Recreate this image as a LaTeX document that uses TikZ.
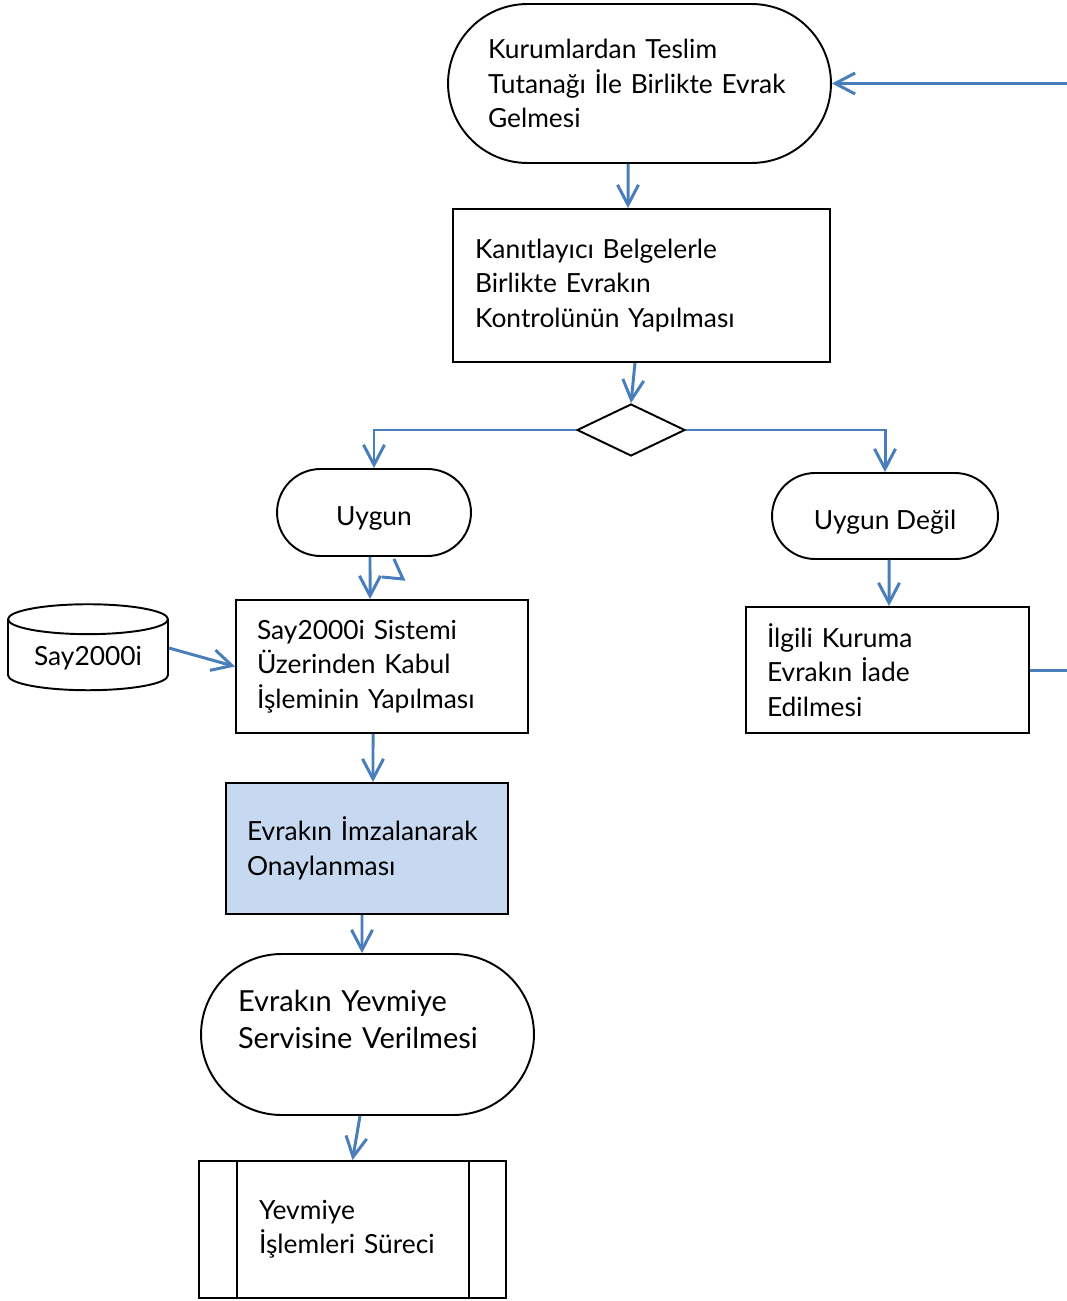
\documentclass[tikz,border=0pt]{standalone}
\usepackage{fontspec}
\setmainfont{Lato}
\usetikzlibrary{shapes.geometric,shapes.symbols,arrows.meta}
\definecolor{flowblue}{HTML}{4A7EBB}
\definecolor{lightfill}{HTML}{C6D9F1}

\begin{document}
\begin{tikzpicture}[x=0.02cm,y=-0.02cm]
  \tikzset{box/.style = {shape=rectangle,draw,line width=1.1pt,inner ysep=0pt,align=left,font=\fontsize{15}{19.6}\selectfont}}
  \tikzset{term/.style = {box,rounded corners=#1}}
  \tikzset{arr/.style = {draw=flowblue,line width=1.7pt,-{Straight Barb[length=0.4cm,width=0.42cm]}}}
  \useasboundingbox (0,0) rectangle (1067,1301);

	\node[term=1.59cm,minimum width=7.66cm,minimum height=3.18cm,text width=6.06cm,inner xsep=0.8cm](start) at (639.5,83.5) {Kurumlardan Teslim\\\mbox{Tutanağı İle Birlikte Evrak}\\Gelmesi};
	\node[box,minimum width=7.54cm,minimum height=3.06cm,text width=6.66cm,inner xsep=0.44cm](ctrl) at (641.5,285.5) {Kanıtlayıcı Belgelerle\\Birlikte Evrakın\\Kontrolünün Yapılması};
	\node[shape=diamond,draw,line width=1.1pt,minimum width=2.16cm,minimum height=1.04cm,inner sep=0pt](dec) at (631,430) {};

	\node[term=0.87cm,minimum width=3.88cm,minimum height=1.74cm,text height=15pt,text depth=0pt](uyg) at (374,512.5) {Uygun};
	\node[term=0.86cm,minimum width=4.52cm,minimum height=1.72cm,text height=15pt,text depth=0pt](uygd) at (885,516) {Uygun Değil};

	\node[box,shape=cylinder,shape border rotate=90,aspect=0.25,minimum width=3.2cm,minimum height=1.72cm](db) at (88,658) {Say2000i};
	\node[box,minimum width=5.84cm,minimum height=2.66cm,text width=5cm,inner xsep=0.42cm](say) at (382,666.5) {Say2000i Sistemi\\Üzerinden Kabul\\İşleminin Yapılması};
	\node[box,minimum width=5.66cm,minimum height=2.52cm,text width=4.82cm,inner xsep=0.42cm](ilg) at (887.5,670) {İlgili Kuruma\\Evrakın İade\\Edilmesi};

	\node[box,fill=lightfill,minimum width=5.64cm,minimum height=2.62cm,text width=4.8cm,inner xsep=0.42cm](imza) at (367,848.5) {\mbox{Evrakın İmzalanarak}\\Onaylanması};
	\node[term=1.61cm,minimum width=6.66cm,minimum height=3.22cm,text width=5.18cm,inner xsep=0.74cm,font=\fontsize{16.5}{21}\selectfont](yev) at (367.5,1034.5) {Evrakın Yevmiye\\\mbox{Servisine Verilmesi}\\[-0.14cm]\mbox{}};

	\node[box,minimum width=6.14cm,minimum height=2.74cm,text width=3.74cm,inner xsep=1.2cm](sub) at (352.5,1229.5) {Yevmiye\\\mbox{İşlemleri Süreci}};
	\draw[line width=1.1pt] ([xshift=0.78cm]sub.north west) -- ([xshift=0.78cm]sub.south west);
	\draw[line width=1.1pt] ([xshift=-0.76cm]sub.north east) -- ([xshift=-0.76cm]sub.south east);

    \foreach \from/\a/\to/\b in {start/-0.23/ctrl/-0.27, ctrl/-0.13/dec/0, uyg/-0.08/say/-0.24, say/-0.18/imza/0.12, imza/-0.1/yev/-0.11, yev/-0.15/sub/0, uygd/0.08/ilg/0.03}
    \draw[arr] ([xshift=\a cm]\from.south) -- ([xshift=\b cm]\to.north);
    \foreach \to/\side in {uyg/west, uygd/east}
    \draw[arr] (dec.\side) -| (\to.north);
    \draw[arr] ([yshift=0.2cm]db.east) -- (say.west);
    \draw[arr] (ilg.east) -- ++(2cm,0) |- (start.east);
    % stray tip under Uygun
    \draw[flowblue,line width=1.7pt] (394,559) -- (403,579) -- (382,577);
\end{tikzpicture}
\end{document}
